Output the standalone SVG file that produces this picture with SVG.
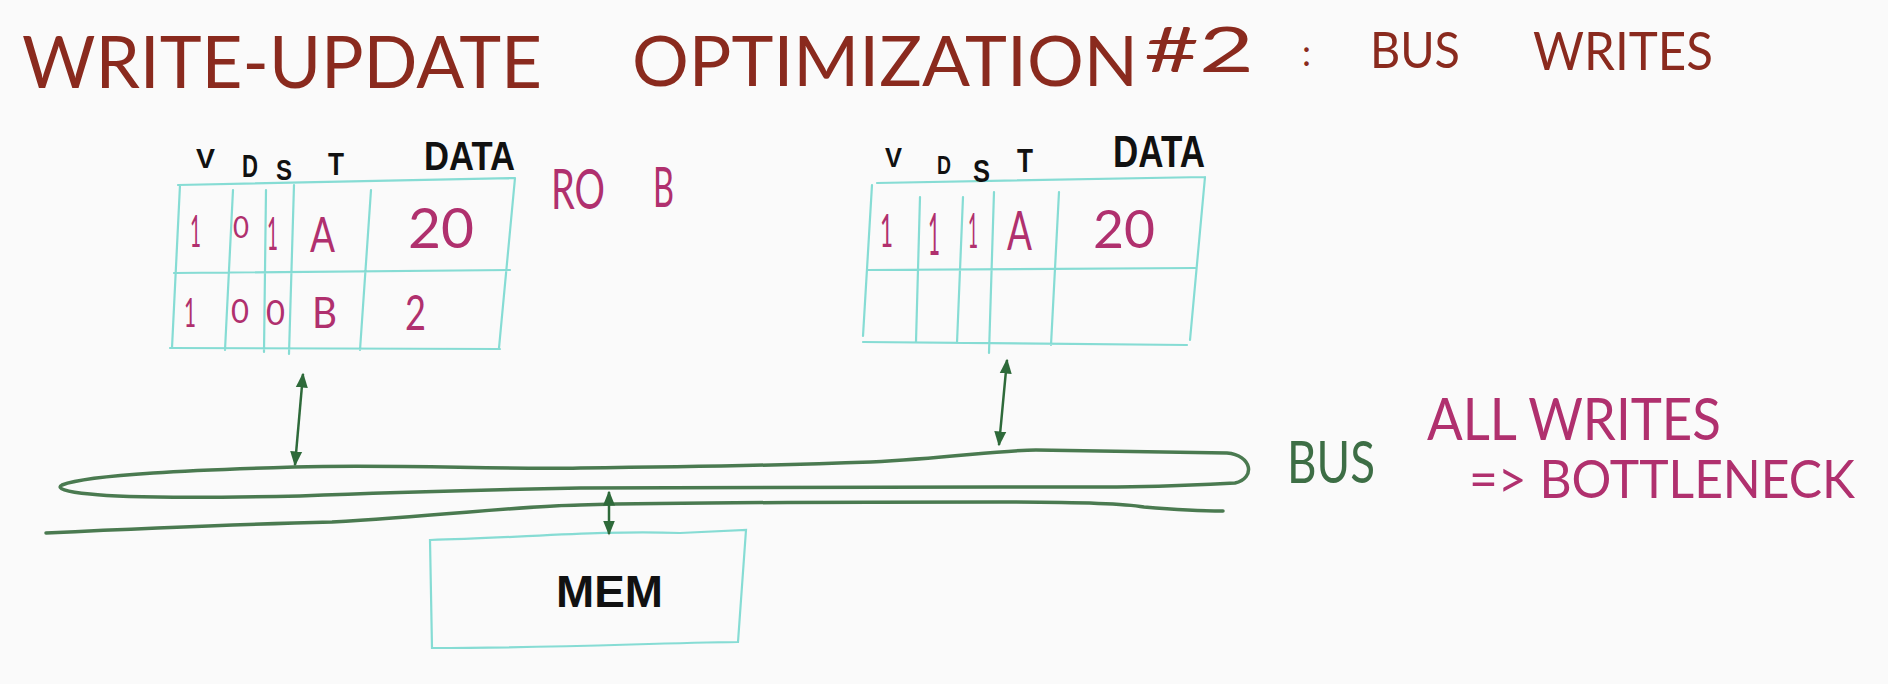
<svg xmlns="http://www.w3.org/2000/svg" width="1888" height="684" viewBox="0 0 1888 684">
<style>
.title{font-family:Lato,"Liberation Sans",Arial,sans-serif;font-weight:400;fill:#8a2a1e;}
.hdr{font-family:"Liberation Sans",Arial,sans-serif;font-weight:bold;fill:#111;}
.val{font-family:Lato,"Liberation Sans",Arial,sans-serif;font-weight:400;fill:#b0306e;}
.grid{fill:none;stroke:#86dcd4;stroke-width:2.2;stroke-linecap:round;}
.bus{fill:none;stroke:#4a7a50;stroke-width:3.5;stroke-linecap:round;stroke-linejoin:round;}
.arr{fill:none;stroke:#2e6a3a;stroke-width:2.5;marker-start:url(#ah);marker-end:url(#ah);}
.grn{font-family:Lato,"Liberation Sans",Arial,sans-serif;font-weight:400;fill:#3d6e45;}
.mem{font-family:"Liberation Sans",Arial,sans-serif;font-weight:bold;fill:#111;}
</style>
<defs>
<marker id="ah" viewBox="0 0 10 10" refX="9" refY="5" markerWidth="6" markerHeight="6" orient="auto-start-reverse" markerUnits="strokeWidth">
<path d="M0,1 L10,5 L0,9 Z" fill="#2e6a3a"/>
</marker>
</defs>
<rect width="1888" height="684" fill="#fafafa"/>
<g id="title">
<text class="title" x="22" y="88" font-size="72" textLength="520" lengthAdjust="spacingAndGlyphs">WRITE-UPDATE</text>
<text class="title" x="632" y="86" font-size="70" textLength="506" lengthAdjust="spacingAndGlyphs">OPTIMIZATION</text>
<text class="title" x="1144" y="72" font-size="62" textLength="110" lengthAdjust="spacingAndGlyphs">#2</text>
<text class="title" x="1302" y="66" font-size="36">:</text>
<text class="title" x="1370" y="68" font-size="50" textLength="90" lengthAdjust="spacingAndGlyphs">BUS</text>
<text class="title" x="1533" y="70" font-size="52" textLength="180" lengthAdjust="spacingAndGlyphs">WRITES</text>
</g>
<g id="cache1">
<path class="grid" d="M178,185 L515,178 M180,185 L172,348 M174,273 L510,270 M170,348 L500,349 M515,178 L499,348 M233,190 L225,350 M266,190 L264,352 M294,185 L289,354 M371,190 L360,350"/>
<text class="hdr" x="196" y="168" font-size="28" textLength="19" lengthAdjust="spacingAndGlyphs">V</text>
<text class="hdr" x="242" y="177" font-size="32" textLength="16" lengthAdjust="spacingAndGlyphs">D</text>
<text class="hdr" x="276" y="180" font-size="30" textLength="16" lengthAdjust="spacingAndGlyphs">S</text>
<text class="hdr" x="328" y="175" font-size="32" textLength="16" lengthAdjust="spacingAndGlyphs">T</text>
<text class="hdr" x="424" y="170" font-size="40" textLength="91" lengthAdjust="spacingAndGlyphs">DATA</text>
<text class="val" x="190" y="247" font-size="44" textLength="11" lengthAdjust="spacingAndGlyphs">1</text>
<text class="val" x="233" y="238" font-size="30" textLength="16" lengthAdjust="spacingAndGlyphs">0</text>
<text class="val" x="267" y="250" font-size="46" font-weight="bold" textLength="11" lengthAdjust="spacingAndGlyphs">1</text>
<text class="val" x="310" y="252" font-size="48" textLength="25" lengthAdjust="spacingAndGlyphs">A</text>
<text class="val" x="408" y="248" font-size="56" textLength="66" lengthAdjust="spacingAndGlyphs">20</text>
<text class="val" x="184" y="327" font-size="40" textLength="12" lengthAdjust="spacingAndGlyphs">1</text>
<text class="val" x="231" y="323" font-size="32" textLength="18" lengthAdjust="spacingAndGlyphs">0</text>
<text class="val" x="266" y="325" font-size="34" textLength="19" lengthAdjust="spacingAndGlyphs">0</text>
<text class="val" x="312" y="328" font-size="42" textLength="25" lengthAdjust="spacingAndGlyphs">B</text>
<text class="val" x="405" y="330" font-size="48" textLength="21" lengthAdjust="spacingAndGlyphs">2</text>
<text class="val" x="551" y="209" font-size="56" textLength="54" lengthAdjust="spacingAndGlyphs">RO</text>
<text class="val" x="653" y="207" font-size="56" textLength="21" lengthAdjust="spacingAndGlyphs">B</text>
</g>
<g id="cache2">
<path class="grid" d="M877,183 L1205,177 M872,185 L863,336 M867,270 L1195,268 M863,342 L1187,345 M1205,177 L1190,340 M920,197 L916,342 M963,197 L957,343 M994,192 L989,353 M1059,192 L1051,345"/>
<text class="hdr" x="885" y="167" font-size="28" textLength="17" lengthAdjust="spacingAndGlyphs">V</text>
<text class="hdr" x="937" y="174" font-size="26" textLength="14" lengthAdjust="spacingAndGlyphs">D</text>
<text class="hdr" x="973" y="182" font-size="32" textLength="17" lengthAdjust="spacingAndGlyphs">S</text>
<text class="hdr" x="1017" y="172" font-size="34" textLength="16" lengthAdjust="spacingAndGlyphs">T</text>
<text class="hdr" x="1113" y="167" font-size="44" textLength="92" lengthAdjust="spacingAndGlyphs">DATA</text>
<text class="val" x="880" y="247" font-size="46" textLength="13" lengthAdjust="spacingAndGlyphs">1</text>
<text class="val" x="928" y="255" font-size="58" textLength="12" lengthAdjust="spacingAndGlyphs">1</text>
<text class="val" x="968" y="248" font-size="48" font-weight="bold" textLength="10" lengthAdjust="spacingAndGlyphs">1</text>
<text class="val" x="1007" y="250" font-size="54" textLength="25" lengthAdjust="spacingAndGlyphs">A</text>
<text class="val" x="1093" y="248" font-size="52" textLength="62" lengthAdjust="spacingAndGlyphs">20</text>
</g>
<g id="bus">
<path class="bus" d="M62,485 C90,474 200,470 294,467 C400,464 500,470 580,468 C680,467 760,466 871,462 C950,458 1000,450 1036,450 L1227,453 C1252,455 1256,478 1235,483 C1150,488 1078,487 1000,487 C850,487 700,487 580,488 C480,490 400,492 300,496 C200,498 124,498 90,494 C65,492 56,488 62,485 Z"/>
<path class="bus" d="M46,533 C150,528 250,524 332,522 C450,515 520,506 580,505 C700,502 829,502 1000,502 C1078,502 1120,503 1144,507 C1180,510 1200,511 1223,511"/>
<text class="grn" x="1287" y="483" font-size="58" textLength="88" lengthAdjust="spacingAndGlyphs">BUS</text>
</g>
<g id="mem">
<path class="grid" d="M430,540 C520,538 600,530 680,533 L746,530 L738,642 C650,643 560,648 432,648 Z"/>
<text class="mem" x="556" y="607" font-size="44" textLength="107" lengthAdjust="spacingAndGlyphs">MEM</text>
</g>
<g id="note">
<text class="val" x="1427" y="440" font-size="58" textLength="294" lengthAdjust="spacingAndGlyphs">ALL WRITES</text>
<text class="val" x="1469" y="498" font-size="52" textLength="386" lengthAdjust="spacingAndGlyphs">=&gt; BOTTLENECK</text>
</g>
<g id="connectors">
<path class="arr" d="M303,374 L295,465"/>
<path class="arr" d="M1007,360 L999,445"/>
<path class="arr" d="M609,492 L609,534"/>
</g>
</svg>
